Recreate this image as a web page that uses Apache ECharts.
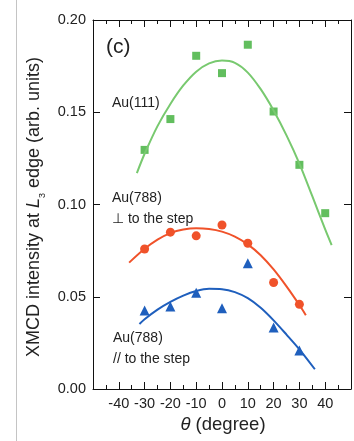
<!DOCTYPE html>
<html>
<head>
<meta charset="utf-8">
<script src="https://cdn.jsdelivr.net/npm/echarts@6/dist/echarts.min.js"></script>
<style>
  html, body { margin: 0; padding: 0; background: #fff; }
  #chart { width: 354px; height: 441px; }
</style>
</head>
<body>
<div id="chart"></div>
<script>
// measured points (theta in degrees)
const thetaPts = [-30, -20, -10, 0, 10, 20, 30, 40];
const au111Pts = [0.1296, 0.1463, 0.1806, 0.1712, 0.1866, 0.1504, 0.1215, 0.0953];
const perpPts = [0.0759, 0.0850, 0.0830, 0.0889, 0.0790, 0.0577, 0.0459];
const parPts = [0.0425, 0.0447, 0.0522, 0.0438, 0.0682, 0.0334, 0.0208];

// fitted curves
const fitTheta111 = [-33, -30, -25, -20, -15, -10, -5, 0, 5, 10, 15, 20, 25, 30, 35, 40, 42.5];
const fit111 = [0.117, 0.1275, 0.1425, 0.1545, 0.1645, 0.1720, 0.1765, 0.1780, 0.1768, 0.1715, 0.1625, 0.1510, 0.1375, 0.1222, 0.1045, 0.0865, 0.0780];
const fitThetaPerp = [-36, -30, -25, -20, -15, -10, -5, 0, 5, 10, 15, 20, 25, 30, 32.5];
const fitPerp = [0.0685, 0.0760, 0.0810, 0.0845, 0.0864, 0.0871, 0.0867, 0.0853, 0.0826, 0.0784, 0.0725, 0.0648, 0.0556, 0.0455, 0.0400];
const fitThetaPar = [-32, -30, -25, -20, -15, -10, -5, 0, 5, 10, 15, 20, 25, 30, 36];
const fitPar = [0.0352, 0.0378, 0.0430, 0.0472, 0.0506, 0.0531, 0.0543, 0.0541, 0.0525, 0.0492, 0.0440, 0.0372, 0.0295, 0.0215, 0.0107];

const xTicks = {min: -50, max: 50, interval: 10};
const yTicks = {min: 0, max: 0.2, interval: 0.05};

const FONT = 'Liberation Sans, Arial, sans-serif';
const GREEN = '#62be5e', GREEN_LINE = '#78c96f';
const RED = '#f0522a';
const BLUE = '#1f5fbd';
const INK = '#222';
const TICK = '#111';

function pairs(xs, ys) {
    return ys.map((v, i) => [xs[i], v]);
}

function xAxisCfg(pos, labels) {
    return {
        type: 'value', position: pos, z: 10,
        min: xTicks.min, max: xTicks.max, interval: xTicks.interval,
        axisLine: {show: true, onZero: false, lineStyle: {color: TICK}},
        axisTick: {show: true, inside: true, length: 7, lineStyle: {color: TICK, width: 1}},
        minorTick: {show: true, splitNumber: 2, length: 4, lineStyle: {color: TICK, width: 1}},
        splitLine: {show: false},
        axisLabel: {
            show: labels, margin: 7, color: INK, fontSize: 14.5, fontFamily: FONT,
            formatter: v => (v === xTicks.min || v === xTicks.max) ? '' : String(v)
        }
    };
}

function yAxisCfg(pos, labels) {
    return {
        type: 'value', position: pos, z: 10,
        min: yTicks.min, max: yTicks.max, interval: yTicks.interval,
        axisLine: {show: true, onZero: false, lineStyle: {color: TICK}},
        axisTick: {show: true, inside: true, length: 7, lineStyle: {color: TICK, width: 1}},
        splitLine: {show: false},
        axisLabel: {
            show: labels, margin: 7, color: INK, fontSize: 14.5, fontFamily: FONT,
            formatter: v => v.toFixed(2)
        }
    };
}

function fitSeries(xs, ys, color) {
    return {
        type: 'line', smooth: 0.3, symbol: 'none', silent: true,
        data: pairs(xs, ys),
        lineStyle: {color: color, width: 2}
    };
}

function pointSeries(xs, ys, symbol, size, color) {
    return {
        type: 'scatter', symbol: symbol, symbolSize: size,
        data: pairs(xs, ys),
        itemStyle: {color: color, opacity: 1}
    };
}

const chart = echarts.init(document.getElementById('chart'));

chart.setOption({
    animation: false,
    grid: {left: 93, right: 1, top: 20, bottom: 52},
    xAxis: [xAxisCfg('bottom', true), xAxisCfg('top', false)],
    yAxis: [yAxisCfg('left', true), yAxisCfg('right', false)],
    series: [
        fitSeries(fitTheta111, fit111, GREEN_LINE),
        fitSeries(fitThetaPerp, fitPerp, RED),
        fitSeries(fitThetaPar, fitPar, BLUE),
        pointSeries(thetaPts, au111Pts, 'rect', 8, GREEN),
        pointSeries(thetaPts, perpPts, 'circle', 9, RED),
        pointSeries(thetaPts, parPts, 'triangle', 10, BLUE)
    ],
    graphic: [
        {
            type: 'line', silent: true,
            shape: {x1: 16.5, y1: 0, x2: 16.5, y2: 441},
            style: {stroke: '#c4c4c4', lineWidth: 1}
        },
        {
            type: 'text', x: 34, y: 207, rotation: Math.PI / 2, silent: true,
            style: {
                text: 'XMCD intensity at {i|L}{s|3} edge (arb. units)',
                font: '18px ' + FONT, fill: INK, align: 'center', verticalAlign: 'middle',
                rich: {
                    i: {fontStyle: 'italic', fontSize: 18, fontFamily: FONT, fill: INK},
                    s: {fontSize: 9, fontFamily: FONT, padding: [18, 0, 0, 0], fill: INK}
                }
            }
        },
        {
            type: 'text', x: 223, y: 425, silent: true,
            style: {
                text: '{i|θ} (degree)',
                font: '18.5px ' + FONT, fill: INK, align: 'center', verticalAlign: 'middle',
                rich: {
                    i: {fontStyle: 'italic', fontSize: 18.5, fontFamily: FONT, fill: INK}
                }
            }
        },
        {
            type: 'text', x: 106, y: 47, silent: true,
            style: {text: '(c)', font: '21px ' + FONT, fill: INK, verticalAlign: 'middle'}
        },
        {
            type: 'text', x: 112, y: 103, silent: true,
            style: {text: 'Au(111)', font: '14px ' + FONT, fill: INK, verticalAlign: 'middle'}
        },
        {
            type: 'text', x: 112, y: 198, silent: true,
            style: {text: 'Au(788)', font: '14px ' + FONT, fill: INK, verticalAlign: 'middle'}
        },
        {
            type: 'text', x: 112, y: 219, silent: true,
            style: {text: '\u22A5 to the step', font: '14px ' + FONT, fill: INK, verticalAlign: 'middle'}
        },
        {
            type: 'text', x: 113, y: 338, silent: true,
            style: {text: 'Au(788)', font: '14px ' + FONT, fill: INK, verticalAlign: 'middle'}
        },
        {
            type: 'text', x: 113, y: 359, silent: true,
            style: {text: '// to the step', font: '14px ' + FONT, fill: INK, verticalAlign: 'middle'}
        }
    ]
});
</script>
</body>
</html>
